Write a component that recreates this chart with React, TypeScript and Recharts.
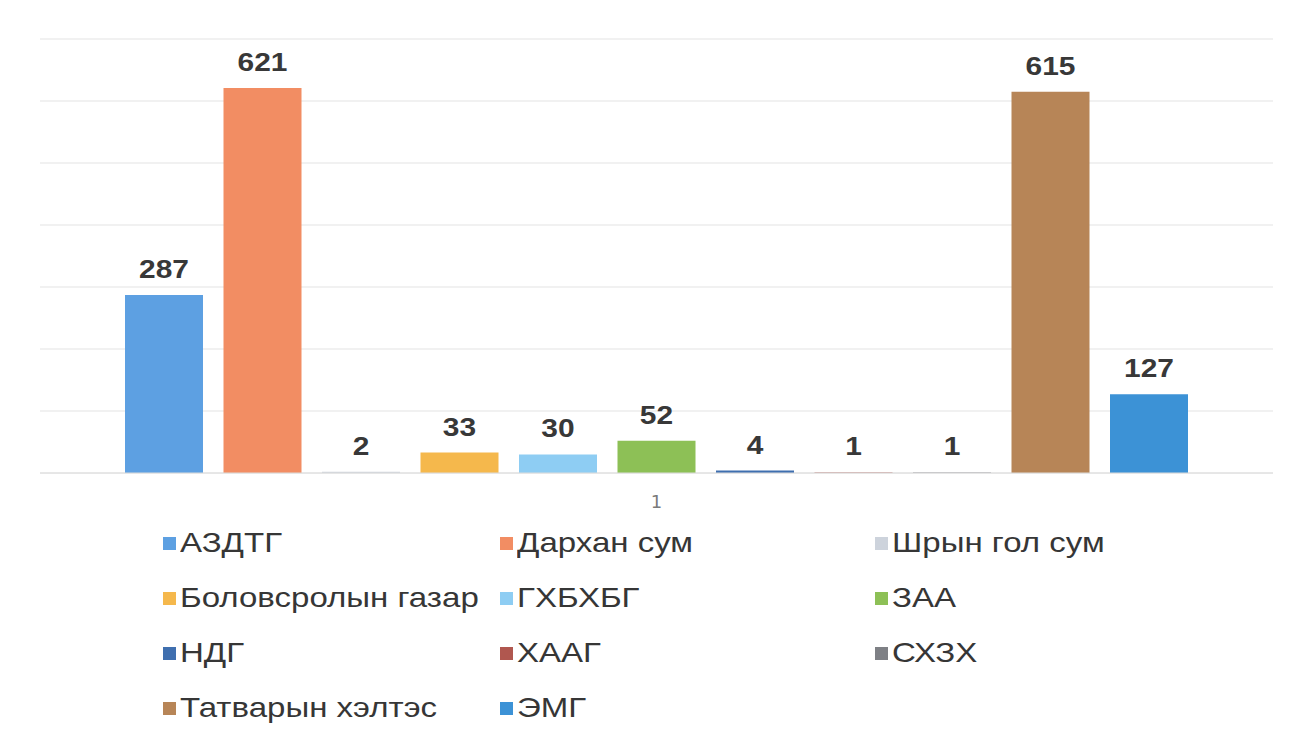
import React from "react";
import { BarChart, Bar, XAxis, YAxis, CartesianGrid, LabelList } from "recharts";

const categories = ["1"];
const seriesNames = [
  "АЗДТГ",
  "Дархан сум",
  "Шрын гол сум",
  "Боловсролын газар",
  "ГХБХБГ",
  "ЗАА",
  "НДГ",
  "ХААГ",
  "СХЗХ",
  "Татварын хэлтэс",
  "ЭМГ",
];
const seriesValues = [287, 621, 2, 33, 30, 52, 4, 1, 1, 615, 127];
const seriesColors = [
  "#5DA0E2",
  "#F28D63",
  "#CDD3DC",
  "#F5B84C",
  "#8ECDF3",
  "#8DC056",
  "#3F6FAF",
  "#B0574F",
  "#7E8085",
  "#B78557",
  "#3C92D6",
];
const yTicks = [0, 100, 200, 300, 400, 500, 600, 700];

const data = categories.map((c) => {
  const row: Record<string, string | number> = { name: c };
  seriesNames.forEach((s, i) => {
    row[`s${i}`] = seriesValues[i];
  });
  return row;
});

const ValueLabel = (props: any) => {
  const { x, y, width, value } = props;
  const cx = Number(x) + Number(width) / 2;
  const by = Number(y) - 17;
  return (
    <text
      x={cx}
      y={by}
      textAnchor="middle"
      fontFamily="'Liberation Sans', Arial, sans-serif"
      fontWeight="bold"
      fontSize={26}
      fill="#383838"
      transform={`translate(${cx},0) scale(1.15,1) translate(${-cx},0)`}
    >
      {value}
    </text>
  );
};

const legendCols = [163, 500, 875];
const legendRows = [543, 598, 653, 708];

export default function App() {
  return (
    <div
      style={{
        position: "absolute",
        left: 0,
        top: 0,
        width: 1292,
        height: 749,
        background: "#ffffff",
        overflow: "hidden",
      }}
    >
      <div style={{ position: "absolute", left: 0, top: 0 }}>
        <BarChart
          width={1292}
          height={749}
          data={data}
          margin={{ top: 39, right: 19, left: 40, bottom: 246 }}
          barGap={20.5}
          barSize={78}
        >
          <CartesianGrid horizontal vertical={false} stroke="#e4e4e4" strokeWidth={1.2} />
          <YAxis hide domain={[0, 700]} ticks={yTicks} width={0} />
          <XAxis
            dataKey="name"
            height={30}
            axisLine={{ stroke: "#dcdcdc" }}
            tickLine={false}
            tickSize={0}
            tickMargin={22}
            tick={{ fill: "#7a7a7a", fontSize: 18, fontFamily: "'DejaVu Sans', sans-serif" }}
          />
          {seriesNames.map((s, i) => (
            <Bar
              key={s}
              dataKey={`s${i}`}
              name={s}
              fill={seriesColors[i]}
              isAnimationActive={false}
            >
              <LabelList dataKey={`s${i}`} content={ValueLabel} />
            </Bar>
          ))}
        </BarChart>
      </div>
      {seriesNames.map((s, i) => {
        const col = i % 3;
        const row = Math.floor(i / 3);
        return (
          <div
            key={s}
            style={{
              position: "absolute",
              left: legendCols[col],
              top: legendRows[row] - 18,
              height: 36,
              display: "flex",
              alignItems: "center",
              whiteSpace: "nowrap",
            }}
          >
            <div
              style={{
                width: 13,
                height: 13,
                background: seriesColors[i],
                marginRight: 4,
              }}
            />
            <span
              style={{
                fontFamily: "'Liberation Sans', Arial, sans-serif",
                fontSize: 28,
                color: "#363636",
                display: "inline-block",
                transform: "scaleX(1.18)",
                transformOrigin: "left center",
              }}
            >
              {s}
            </span>
          </div>
        );
      })}
    </div>
  );
}
